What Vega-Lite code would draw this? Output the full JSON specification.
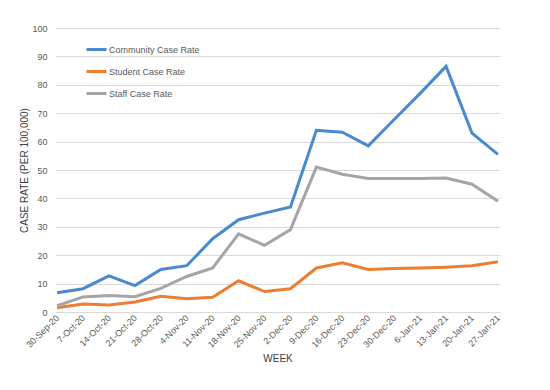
{
  "$schema": "https://vega.github.io/schema/vega-lite/v6.json",
  "width": 445,
  "height": 284,
  "autosize": "none",
  "padding": {"left": 55, "top": 28, "right": 50, "bottom": 78},
  "background": "white",
  "config": {
    "view": {"stroke": null},
    "font": "Liberation Sans",
    "axis": {"labelColor": "#595959", "titleColor": "#404040", "labelFont": "Liberation Sans", "titleFont": "Liberation Sans", "titleFontWeight": "normal"}
  },
  "data": {
    "values": [
      {"week": "30-Sep-20", "series": "Community Case Rate", "rate": 6.8},
      {"week": "7-Oct-20", "series": "Community Case Rate", "rate": 8.2},
      {"week": "14-Oct-20", "series": "Community Case Rate", "rate": 12.7},
      {"week": "21-Oct-20", "series": "Community Case Rate", "rate": 9.3},
      {"week": "28-Oct-20", "series": "Community Case Rate", "rate": 15.0},
      {"week": "4-Nov-20", "series": "Community Case Rate", "rate": 16.3},
      {"week": "11-Nov-20", "series": "Community Case Rate", "rate": 25.8},
      {"week": "18-Nov-20", "series": "Community Case Rate", "rate": 32.5},
      {"week": "25-Nov-20", "series": "Community Case Rate", "rate": 34.8},
      {"week": "2-Dec-20", "series": "Community Case Rate", "rate": 37.0},
      {"week": "9-Dec-20", "series": "Community Case Rate", "rate": 64.0},
      {"week": "16-Dec-20", "series": "Community Case Rate", "rate": 63.3},
      {"week": "23-Dec-20", "series": "Community Case Rate", "rate": 58.5},
      {"week": "30-Dec-20", "series": "Community Case Rate", "rate": 67.8},
      {"week": "6-Jan-21", "series": "Community Case Rate", "rate": 77.0},
      {"week": "13-Jan-21", "series": "Community Case Rate", "rate": 86.5},
      {"week": "20-Jan-21", "series": "Community Case Rate", "rate": 63.0},
      {"week": "27-Jan-21", "series": "Community Case Rate", "rate": 55.5},
      {"week": "30-Sep-20", "series": "Student Case Rate", "rate": 1.5},
      {"week": "7-Oct-20", "series": "Student Case Rate", "rate": 2.8},
      {"week": "14-Oct-20", "series": "Student Case Rate", "rate": 2.5},
      {"week": "21-Oct-20", "series": "Student Case Rate", "rate": 3.5},
      {"week": "28-Oct-20", "series": "Student Case Rate", "rate": 5.5},
      {"week": "4-Nov-20", "series": "Student Case Rate", "rate": 4.7},
      {"week": "11-Nov-20", "series": "Student Case Rate", "rate": 5.2},
      {"week": "18-Nov-20", "series": "Student Case Rate", "rate": 11.0},
      {"week": "25-Nov-20", "series": "Student Case Rate", "rate": 7.2},
      {"week": "2-Dec-20", "series": "Student Case Rate", "rate": 8.2},
      {"week": "9-Dec-20", "series": "Student Case Rate", "rate": 15.5},
      {"week": "16-Dec-20", "series": "Student Case Rate", "rate": 17.3},
      {"week": "23-Dec-20", "series": "Student Case Rate", "rate": 15.0},
      {"week": "30-Dec-20", "series": "Student Case Rate", "rate": 15.3},
      {"week": "6-Jan-21", "series": "Student Case Rate", "rate": 15.5},
      {"week": "13-Jan-21", "series": "Student Case Rate", "rate": 15.8},
      {"week": "20-Jan-21", "series": "Student Case Rate", "rate": 16.3},
      {"week": "27-Jan-21", "series": "Student Case Rate", "rate": 17.7},
      {"week": "30-Sep-20", "series": "Staff Case Rate", "rate": 2.2},
      {"week": "7-Oct-20", "series": "Staff Case Rate", "rate": 5.3},
      {"week": "14-Oct-20", "series": "Staff Case Rate", "rate": 5.8},
      {"week": "21-Oct-20", "series": "Staff Case Rate", "rate": 5.4},
      {"week": "28-Oct-20", "series": "Staff Case Rate", "rate": 8.3},
      {"week": "4-Nov-20", "series": "Staff Case Rate", "rate": 12.5},
      {"week": "11-Nov-20", "series": "Staff Case Rate", "rate": 15.5},
      {"week": "18-Nov-20", "series": "Staff Case Rate", "rate": 27.5},
      {"week": "25-Nov-20", "series": "Staff Case Rate", "rate": 23.5},
      {"week": "2-Dec-20", "series": "Staff Case Rate", "rate": 29.0},
      {"week": "9-Dec-20", "series": "Staff Case Rate", "rate": 51.0},
      {"week": "16-Dec-20", "series": "Staff Case Rate", "rate": 48.5},
      {"week": "23-Dec-20", "series": "Staff Case Rate", "rate": 47.0},
      {"week": "30-Dec-20", "series": "Staff Case Rate", "rate": 47.0},
      {"week": "6-Jan-21", "series": "Staff Case Rate", "rate": 47.0},
      {"week": "13-Jan-21", "series": "Staff Case Rate", "rate": 47.2},
      {"week": "20-Jan-21", "series": "Staff Case Rate", "rate": 45.0},
      {"week": "27-Jan-21", "series": "Staff Case Rate", "rate": 39.0}
    ]
  },
  "mark": {"type": "line", "strokeWidth": 3, "strokeJoin": "miter"},
  "encoding": {
    "x": {
      "field": "week",
      "type": "ordinal",
      "sort": null,
      "scale": {"type": "point", "padding": 0.08},
      "axis": {
        "title": "WEEK",
        "titleFontSize": 10,
        "titlePadding": 4,
        "labelAngle": -45,
        "labelAlign": "right",
        "labelBaseline": "middle",
        "labelFontSize": 9,
        "labelPadding": 4,
        "ticks": false,
        "domainColor": "#d9d9d9",
        "grid": false
      }
    },
    "y": {
      "field": "rate",
      "type": "quantitative",
      "scale": {"domain": [0, 100]},
      "axis": {
        "title": "CASE RATE (PER 100,000)",
        "titleFontSize": 10,
        "titlePadding": 2,
        "values": [0, 10, 20, 30, 40, 50, 60, 70, 80, 90, 100],
        "labelFontSize": 9,
        "labelPadding": 8,
        "ticks": false,
        "domain": false,
        "grid": true,
        "gridColor": "#d9d9d9"
      }
    },
    "color": {
      "field": "series",
      "type": "nominal",
      "sort": ["Community Case Rate", "Student Case Rate", "Staff Case Rate"],
      "scale": {"domain": ["Community Case Rate", "Student Case Rate", "Staff Case Rate"], "range": ["#4a89d0", "#ed7d31", "#a5a5a5"]},
      "legend": {
        "title": null,
        "orient": "none",
        "legendX": 30,
        "legendY": 10,
        "symbolType": "stroke",
        "symbolSize": 400,
        "symbolStrokeWidth": 3,
        "labelFontSize": 9,
        "labelColor": "#595959",
        "labelOffset": 1,
        "rowPadding": 4
      }
    }
  }
}
